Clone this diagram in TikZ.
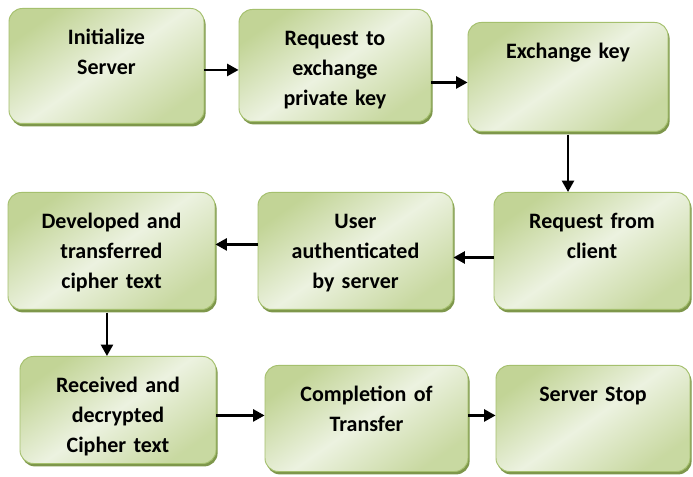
\documentclass[tikz,border=0pt]{standalone}
\usepackage{fontspec}
\setmainfont{Carlito}
\usepackage{tikz}
\usetikzlibrary{arrows.meta, positioning, calc, shadows}
\definecolor{stepdark}{RGB}{194,212,150}
\definecolor{steplight}{RGB}{236,242,224}
\definecolor{stepedge}{RGB}{165,192,110}
\definecolor{stepshade}{RGB}{112,140,56}
\tikzset{
  stepbox/.style={rectangle, rounded corners=10pt, draw=stepedge, line width=0.7pt,
    top color=stepdark, bottom color=stepdark!85!steplight, middle color=steplight,
    shading angle=35,
    drop shadow={shadow xshift=1.2pt, shadow yshift=-2.2pt, fill=stepshade, opacity=0.9},
    font=\fontsize{16.5}{22.5}\selectfont\bfseries, align=center, anchor=north,
    inner sep=0pt, text height=27pt},
  arr/.style={-{Triangle[length=8.5pt, width=9pt]}, line width=1.7pt, black},
}

\begin{document}
\begin{tikzpicture}[x=0.75pt, y=-0.75pt]
  \useasboundingbox[fill=white] (0,0) rectangle (693,477);

  % top row
  \node[stepbox, text width=146.25pt, text depth=59.25pt] (init)  at (106.5,8) {Initialize\\Server};
  \node[stepbox, text width=144pt,    text depth=57pt]    (req)   at (335,9)   {Request to\\exchange\\private key};
  \node[stepbox, text width=150pt,    text depth=54.75pt] (exch)  at (568,22)  {Exchange key};

  % middle row
  \node[stepbox, text width=147pt,    text depth=60.75pt] (client) at (592,192)   {Request from\\client};
  \node[stepbox, text width=146.25pt, text depth=60.75pt] (user)   at (355.5,192) {User\\authenticated\\by server};
  \node[stepbox, text width=155.25pt, text depth=60.75pt] (dev)    at (111.5,192) {Developed and\\transferred\\cipher text};

  % bottom row
  \node[stepbox, text width=147pt,    text depth=53.25pt] (recv)  at (118,356)   {Received and\\decrypted\\Cipher text};
  \node[stepbox, text width=152.25pt, text depth=52.5pt]  (compl) at (366.5,365) {Completion of\\Transfer};
  \node[stepbox, text width=145.5pt,  text depth=52.5pt]  (stop)  at (593,365)   {Server Stop\hspace*{16.5pt}};

  \draw[arr] ([yshift=-3pt]init.east)     -- ([yshift=-3pt]init.east -| req.west);
  \draw[arr] ([yshift=-12.75pt]req.east)  -- ([yshift=-12.75pt]req.east -| exch.west);
  \draw[arr] ([yshift=-2pt]exch.south)    -- (exch.south |- client.north);
  \draw[arr] ([yshift=-4.9pt]client.west) -- ([yshift=-4.9pt]client.west -| user.east);
  \draw[arr] ([yshift=4.9pt]user.west)    -- ([yshift=4.9pt]user.west -| dev.east);
  \draw[arr] ([xshift=-3.4pt,yshift=-2pt]dev.south) -- ([xshift=-3.4pt]dev.south |- recv.north);
  \draw[arr] ([yshift=-4.1pt]recv.east)   -- ([yshift=-4.1pt]recv.east -| compl.west);
  \draw[arr] ([yshift=2.25pt]compl.east)  -- ([yshift=2.25pt]compl.east -| stop.west);
\end{tikzpicture}
\end{document}
